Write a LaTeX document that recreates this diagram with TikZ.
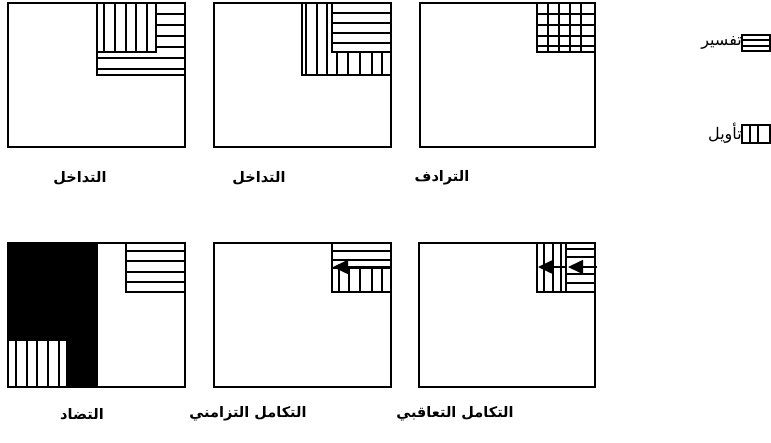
\documentclass[tikz,border=0pt]{standalone}
\usepackage{fontspec}
\newfontfamily\arabicfont[Script=Arabic]{DejaVu Sans}
\TeXXeTstate=1
\usetikzlibrary{arrows.meta}

\begin{document}
\begin{tikzpicture}[x=1pt, y=-1pt,
    frame/.style={draw, line width=1.6pt},
    hatch/.style={line width=1.1pt},
    caption/.style={font=\arabicfont\bfseries\fontsize{14.5}{17}\selectfont},
    legendtext/.style={font=\arabicfont\fontsize{16}{18}\selectfont, anchor=east, inner sep=0pt},
    flow/.style={-{Triangle[length=15pt, width=14pt]}, line width=1.6pt}]

    \useasboundingbox (0,0) rectangle (771,443);

    % Top row, left box
    \draw[frame] (8,3) rectangle (185,147);
    \foreach \y in {14,25,36,47,58,69} \draw[hatch] (97,\y) -- (185,\y);
    \draw[frame] (97,3) rectangle (185,75);
    \filldraw[frame, fill=white] (97,3) rectangle (156,52);
    \foreach \x in {104,115,126,136,147} \draw[hatch] (\x,3) -- (\x,52);
    \node[caption] (capA) at (80,178) {\beginR التداخل\endR};

    % Top row, middle box
    \draw[frame] (214,3) rectangle (391,147);
    \foreach \x in {306,317,327,337,348,360,372,382} \draw[hatch] (\x,3) -- (\x,75);
    \draw[frame] (302,3) rectangle (391,75);
    \filldraw[frame, fill=white] (332,3) rectangle (391,52);
    \foreach \y in {13,23,33,43} \draw[hatch] (332,\y) -- (391,\y);
    \node[caption] (capB) at (259,178) {\beginR التداخل\endR};

    % Top row, right box
    \draw[frame] (420,3) rectangle (595,147);
    \foreach \x in {548,559,570,581} \draw[hatch] (\x,3) -- (\x,52);
    \foreach \y in {14,25,36,46} \draw[hatch] (537,\y) -- (595,\y);
    \draw[frame] (537,3) rectangle (595,52);
    \node[caption] (capC) at (442,178) {\beginR الترادف\endR};

    % Bottom row, left box
    \draw[frame] (8,243) rectangle (185,387);
    \fill (8,243) rectangle (98,387);
    \filldraw[frame, fill=white] (8,340) rectangle (67,387);
    \foreach \x in {16,27,37,48,59} \draw[hatch] (\x,340) -- (\x,387);
    \foreach \y in {251,261,272,282} \draw[hatch] (126,\y) -- (185,\y);
    \draw[frame] (126,243) rectangle (185,292);
    \node[caption] (capD) at (82,414) {\beginR التضاد\endR};

    % Bottom row, middle box
    \draw[frame] (214,243) rectangle (391,387);
    \foreach \y in {251,260} \draw[hatch] (332,\y) -- (391,\y);
    \foreach \x in {339,349,360,372,382} \draw[hatch] (\x,268) -- (\x,292);
    \draw[frame] (332,243) rectangle (391,292);
    \draw[frame] (332,268) -- (391,268);
    \coordinate (midR) at (391,267);
    \coordinate (midL) at (333,267);
    \draw[flow] (midR) -- (midL);
    \node[caption] (capE) at (248,414) {\beginR التكامل التزامني\endR};

    % Bottom row, right box
    \draw[frame] (419,243) rectangle (595,387);
    \foreach \x in {544,553,561} \draw[hatch] (\x,243) -- (\x,292);
    \foreach \y in {249,257,274,283} \draw[hatch] (566,\y) -- (595,\y);
    \draw[frame] (537,243) rectangle (595,292);
    \draw[frame] (566,243) -- (566,292);
    \coordinate (seqA) at (566,267);
    \coordinate (seqB) at (538,267);
    \coordinate (seqC) at (597,267);
    \coordinate (seqD) at (568,267);
    \draw[flow] (seqA) -- (seqB);
    \draw[flow] (seqC) -- (seqD);
    \node[caption] (capF) at (455,414) {\beginR التكامل التعاقبي\endR};

    % Legend
    \draw[frame] (742,35) rectangle (770,51);
    \foreach \y in {40,46} \draw[hatch] (742,\y) -- (770,\y);
    \node[legendtext] (keyH) at (742,43) {\beginR تفسير\endR};
    \draw[frame] (742,125) rectangle (770,143);
    \foreach \x in {750,758} \draw[hatch] (\x,125) -- (\x,143);
    \node[legendtext] (keyV) at (742,133) {\beginR تأويل\endR};
\end{tikzpicture}
\end{document}
